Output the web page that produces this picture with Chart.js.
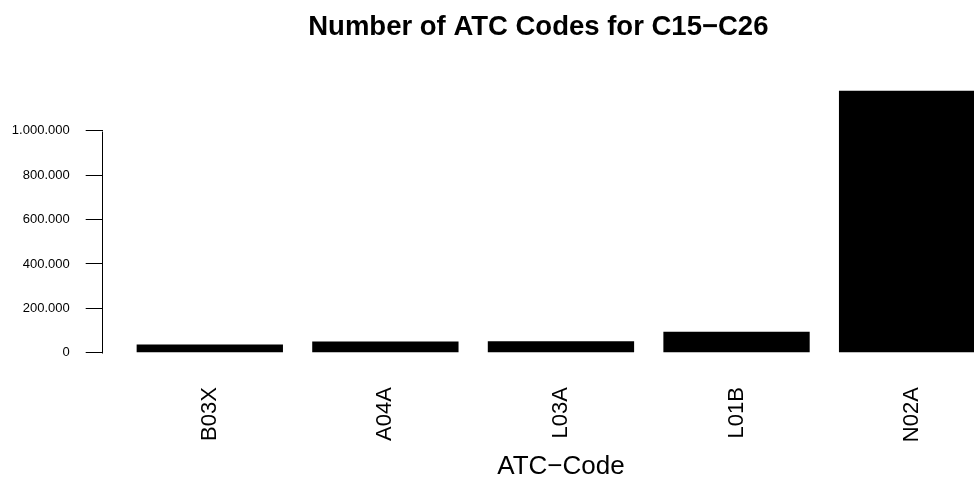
<!DOCTYPE html>
<html>
<head>
<meta charset="utf-8">
<script src="https://cdn.jsdelivr.net/npm/chart.js@4/dist/chart.umd.min.js"></script>
<style>
  html, body { margin: 0; padding: 0; background: #fff; overflow: hidden; }
  #wrap { width: 974px; height: 479px; position: relative; }
</style>
</head>
<body>
<div id="wrap"><canvas id="c"></canvas></div>
<script>
// ---- data ----
const categories = ["B03X", "A04A", "L03A", "L01B", "N02A"];
const counts = [37000, 51000, 52000, 94000, 1180000];
const barPositions = [0.7, 1.9, 3.1, 4.3, 5.5];   // R barplot midpoints
const yTickValues = [0, 200000, 400000, 600000, 800000, 1000000];
const chartTitle = "Number of ATC Codes for C15\u2212C26";
const xAxisTitle = "ATC\u2212Code";

const FONT = "'Liberation Sans', Arial, Helvetica, sans-serif";

function fmtDots(v) {
  return String(Math.round(v)).replace(/\B(?=(\d{3})+(?!\d))/g, ".");
}

const axisPlugin = {
  id: "rAxis",
  afterDraw(chart) {
    const ctx = chart.ctx;
    const y = chart.scales.y, x = chart.scales.x;
    const left = chart.chartArea.left;
    ctx.save();
    ctx.strokeStyle = "#000";
    ctx.lineWidth = 1;
    ctx.beginPath();
    const px = Math.round(left) - 0.5;
    ctx.moveTo(px, Math.round(y.getPixelForValue(yTickValues[0])) + 0.5);
    ctx.lineTo(px, Math.round(y.getPixelForValue(yTickValues[yTickValues.length - 1])) + 0.5);
    ctx.stroke();
    // x axis title, centred on plot region like R
    const mid = (barPositions[0] + barPositions[barPositions.length - 1]) / 2;
    ctx.fillStyle = "#000";
    ctx.font = "26px " + FONT;
    ctx.textAlign = "center";
    ctx.textBaseline = "alphabetic";
    ctx.fillText(xAxisTitle, x.getPixelForValue(mid), 474);
    ctx.restore();
  }
};

new Chart(document.getElementById("c"), {
  type: "bar",
  data: {
    datasets: [{
      data: categories.map((c, i) => ({ x: barPositions[i], y: counts[i] })),
      backgroundColor: "#000",
      borderColor: "#000",
      borderWidth: 0,
      categoryPercentage: 1,
      barPercentage: 1 / 1.2
    }]
  },
  options: {
    responsive: true,
    maintainAspectRatio: false,
    animation: false,
    layout: { padding: 0 },
    plugins: {
      legend: { display: false },
      tooltip: { enabled: false },
      title: {
        display: true,
        text: chartTitle,
        fullSize: false,
        color: "#000",
        font: { family: FONT, size: 27.5, weight: "bold", lineHeight: 1.2 },
        padding: { top: 10.5, bottom: 36.8 }
      }
    },
    scales: {
      x: {
        type: "linear",
        min: -0.032,
        max: 5.923,
        offset: false,
        grid: { display: false, drawTicks: false },
        border: { display: false },
        afterBuildTicks(scale) {
          scale.ticks = barPositions.map(v => ({ value: v }));
        },
        afterFit(scale) { scale.height = 115.8; },
        ticks: {
          autoSkip: false,
          minRotation: 90,
          maxRotation: 90,
          padding: 24,
          color: "#000",
          font: { family: FONT, size: 22 },
          callback(v) {
            const i = barPositions.indexOf(v);
            return i >= 0 ? categories[i] : "";
          }
        }
      },
      y: {
        min: -47200,
        max: 1227200,
        grid: { display: true, drawOnChartArea: false, drawTicks: true, tickLength: 17, color: "#000", lineWidth: 1 },
        border: { display: false },
        afterBuildTicks(scale) {
          scale.ticks = yTickValues.map(v => ({ value: v }));
        },
        afterFit(scale) { scale.width = 102.7; },
        ticks: {
          padding: 16,
          color: "#000",
          font: { family: FONT, size: 13 },
          callback(v) { return fmtDots(v); }
        }
      }
    }
  },
  plugins: [axisPlugin]
});
</script>
</body>
</html>
